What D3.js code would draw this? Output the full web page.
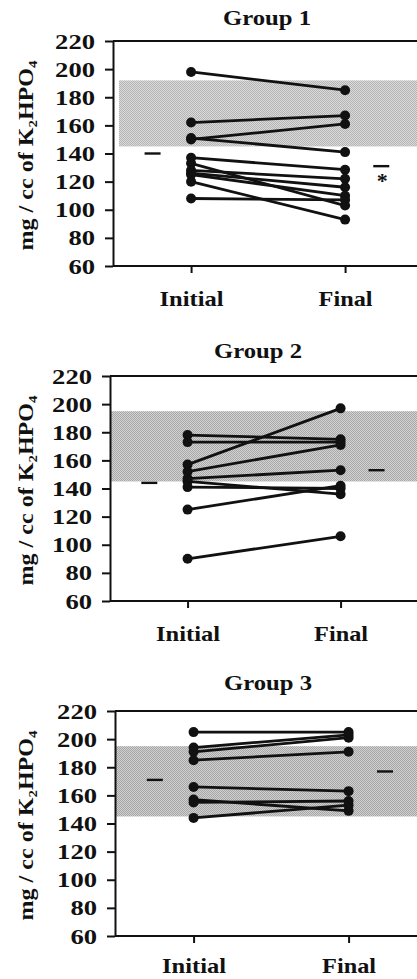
<!DOCTYPE html>
<html>
<head>
<meta charset="utf-8">
<script src="https://cdn.jsdelivr.net/npm/d3@7"></script>
<style>
  html, body { margin: 0; padding: 0; background: #ffffff; }
  svg { display: block; }
  text { font-family: "Liberation Serif", "Times New Roman", serif; fill: #111; }
</style>
</head>
<body>
<svg id="chart" width="417" height="979"></svg>
<script>
// ---------------- data ----------------
const groupNames = ["Group 1", "Group 2", "Group 3"];
const timepoints = ["Initial", "Final"];
const yTicks = [60, 80, 100, 120, 140, 160, 180, 200, 220];
const yLabelMain = "mg / cc of K";

// paired values per subject (initial -> final)
const g1Initial = [198, 162, 150, 151, 137, 133, 128, 126, 125, 120, 108];
const g1Final   = [185, 167, 161, 141, 128.5, 103, 122, 116, 110, 93, 107];

const g2Initial = [178, 173, 157, 152, 147, 145, 141, 125, 90];
const g2Final   = [175, 173, 197, 171, 153, 136, 140, 142, 106];

const g3Initial = [205, 194, 191, 185, 166, 157, 155, 144];
const g3Final   = [205, 203, 201, 191, 163, 149, 156, 153];

// group means (short dashes)
const meanInitial = [140, 144, 171];
const meanFinal   = [131, 153, 177];
const significant = [true, false, false];

// reference band
const bandLow  = [145, 145, 145];
const bandHigh = [192, 195, 195];

const initials = [g1Initial, g2Initial, g3Initial];
const finals   = [g1Final, g2Final, g3Final];

// ---------------- layout ----------------
const panels = [
  { left: 113, top: 41,  bottom: 266, step: 154, titleX: 267, titleY: 25,  pad: 17, bandDark: "#b4b4b4", bandLight: "#dadada" },
  { left: 110, top: 376, bottom: 601, step: 153, titleX: 258, titleY: 358, pad: 17, bandDark: "#a8a8a8", bandLight: "#d2d2d2" },
  { left: 115, top: 711, bottom: 936, step: 155, titleX: 268, titleY: 690, pad: 14, bandDark: "#a6a6a6", bandLight: "#d0d0d0" }
];

const svg = d3.select("#chart");
const defs = svg.append("defs");

panels.forEach((p, i) => {
  const pat = defs.append("pattern")
    .attr("id", "stip" + i)
    .attr("patternUnits", "userSpaceOnUse")
    .attr("width", 2).attr("height", 2);
  pat.append("rect").attr("width", 2).attr("height", 2).attr("fill", p.bandLight);
  pat.append("rect").attr("x", 0).attr("y", 0).attr("width", 1).attr("height", 1).attr("fill", p.bandDark);
  pat.append("rect").attr("x", 1).attr("y", 1).attr("width", 1).attr("height", 1).attr("fill", p.bandDark);

  const right = p.left + p.step * 2 + 10;
  const y = d3.scaleLinear().domain([60, 220]).range([p.bottom, p.top]);
  const x = d3.scalePoint().domain(timepoints)
    .range([p.left + p.step * 0.507, p.left + p.step * 1.507]);

  const g = svg.append("g");

  // band
  g.append("rect")
    .attr("x", p.left + (i === 0 ? 6 : 1))
    .attr("y", y(bandHigh[i]))
    .attr("width", right - p.left)
    .attr("height", y(bandLow[i]) - y(bandHigh[i]))
    .attr("fill", "url(#stip" + i + ")");

  // frame lines (top & bottom)
  g.append("line").attr("x1", p.left).attr("x2", right)
    .attr("y1", p.top).attr("y2", p.top)
    .attr("stroke", "#111").attr("stroke-width", 2);
  g.append("line").attr("x1", p.left).attr("x2", right)
    .attr("y1", p.bottom).attr("y2", p.bottom)
    .attr("stroke", "#111").attr("stroke-width", 2);

  // y axis
  const ya = g.append("g").attr("transform", `translate(${p.left},0)`)
    .call(d3.axisLeft(y).tickValues(yTicks).tickSize(8).tickSizeOuter(0).tickPadding(10));
  ya.select(".domain").attr("stroke", "#111").attr("stroke-width", 2);
  ya.selectAll(".tick line").attr("stroke", "#111").attr("stroke-width", 2);
  ya.selectAll(".tick text")
    .attr("font-family", "Liberation Serif, serif")
    .attr("font-size", 22).attr("font-weight", "bold").attr("fill", "#111")
    .attr("textLength", d => String(d).length * 13.3)
    .attr("lengthAdjust", "spacingAndGlyphs");

  // x axis
  const xa = g.append("g").attr("transform", `translate(0,${p.bottom})`)
    .call(d3.axisBottom(x).tickSize(7).tickSizeOuter(0).tickPadding(p.pad));
  xa.select(".domain").remove();
  xa.selectAll(".tick line").attr("stroke", "#111").attr("stroke-width", 2);
  xa.selectAll(".tick text")
    .attr("font-family", "Liberation Serif, serif")
    .attr("font-size", 22).attr("font-weight", "bold").attr("fill", "#111")
    .attr("textLength", d => d === "Initial" ? 64 : 54)
    .attr("lengthAdjust", "spacingAndGlyphs");

  // title
  g.append("text")
    .attr("x", p.titleX).attr("y", p.titleY)
    .attr("text-anchor", "middle")
    .attr("font-size", 22).attr("font-weight", "bold")
    .attr("textLength", 88).attr("lengthAdjust", "spacingAndGlyphs")
    .text(groupNames[i]);

  // y label
  const cy = (p.top + p.bottom) / 2 + 2;
  const yl = g.append("text")
    .attr("transform", `translate(33,${cy}) rotate(-90)`)
    .attr("text-anchor", "middle")
    .attr("font-size", 21)
    .attr("font-weight", "bold")
    .attr("textLength", 190).attr("lengthAdjust", "spacingAndGlyphs");
  yl.append("tspan").text(yLabelMain);
  yl.append("tspan").attr("font-size", 13).attr("dy", 4).text("2");
  yl.append("tspan").attr("dy", -4).text("HPO");
  yl.append("tspan").attr("font-size", 13).attr("dy", 4).text("4");

  // paired lines
  const pairs = initials[i].map((v, k) => [
    { t: "Initial", v: v },
    { t: "Final", v: finals[i][k] }
  ]);
  const line = d3.line().x(d => x(d.t)).y(d => y(d.v));
  g.append("g").selectAll("path").data(pairs).join("path")
    .attr("d", line)
    .attr("fill", "none").attr("stroke", "#111").attr("stroke-width", 2.8);

  const pts = pairs.flat();
  g.append("g").selectAll("circle").data(pts).join("circle")
    .attr("cx", d => x(d.t)).attr("cy", d => y(d.v)).attr("r", 5)
    .attr("fill", "#111");

  // mean dashes
  const dashW = 16;
  const mi = x("Initial") - p.step * 0.25;
  const mf = x("Final") + p.step * 0.235;
  g.append("line").attr("x1", mi - dashW / 2).attr("x2", mi + dashW / 2)
    .attr("y1", y(meanInitial[i])).attr("y2", y(meanInitial[i]))
    .attr("stroke", "#111").attr("stroke-width", 2.4);
  g.append("line").attr("x1", mf - dashW / 2).attr("x2", mf + dashW / 2)
    .attr("y1", y(meanFinal[i])).attr("y2", y(meanFinal[i]))
    .attr("stroke", "#111").attr("stroke-width", 2.4);
  if (significant[i]) {
    g.append("text")
      .attr("x", mf + 1).attr("y", y(meanFinal[i]) + 22)
      .attr("text-anchor", "middle")
      .attr("font-size", 22).attr("font-weight", "bold")
      .text("*");
  }
});
</script>
</body>
</html>
